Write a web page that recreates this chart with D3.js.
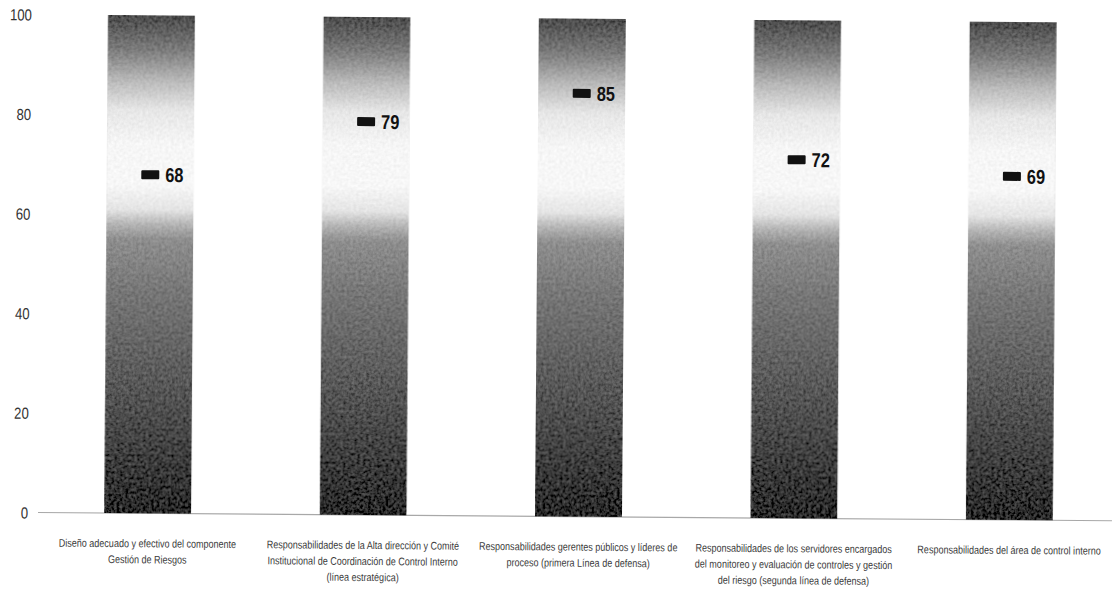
<!DOCTYPE html>
<html>
<head>
<meta charset="utf-8">
<script src="https://cdn.jsdelivr.net/npm/d3@7"></script>
<style>
  body { margin: 0; background: #fff; }
  svg { display: block; }
  .tick text { font-family: "Liberation Sans", Arial, sans-serif; }
</style>
</head>
<body>
<div id="chart"></div>
<script>
// Category labels, one entry per line of text
const categories = [
  ["Diseño adecuado y efectivo del componente", "Gestión de Riesgos"],
  ["Responsabilidades de la Alta dirección y Comité", "Institucional de Coordinación de Control Interno", "(línea estratégica)"],
  ["Responsabilidades gerentes públicos y líderes de", "proceso (primera Línea de defensa)"],
  ["Responsabilidades de los servidores encargados", "del monitoreo y evaluación de controles y gestión", "del riesgo (segunda línea de defensa)"],
  ["Responsabilidades del área de control interno"]
];
// Score reached in each component
const values = [68, 79, 85, 72, 69];
// Full scale of each track bar
const scaleMax = [100, 100, 100, 100, 100];
const yTicks = [0, 20, 40, 60, 80, 100];

const W = 1115, H = 590;
const font = '"Liberation Sans", Arial, sans-serif';
const squeeze = "scale(0.82,1)";   // narrow lettering

const svg = d3.select("#chart").append("svg")
  .attr("width", W).attr("height", H);

const defs = svg.append("defs");

// Shading of the track bars: dark at the base, bright band in the upper middle, darker at the top
const grad = defs.append("linearGradient")
  .attr("id", "trackShade")
  .attr("x1", 0).attr("y1", 0).attr("x2", 0).attr("y2", 1);
[
  [0.00, "#4a4a4a"], [0.07, "#7c7c7c"], [0.13, "#b8b8b8"], [0.19, "#e6e6e6"],
  [0.26, "#f6f6f6"], [0.34, "#f7f7f7"], [0.39, "#e4e4e4"], [0.42, "#b4b4b4"],
  [0.45, "#8e8e8e"], [0.55, "#777"], [0.70, "#5e5e5e"], [0.85, "#444"], [1.00, "#262626"]
].forEach(([o, c]) => grad.append("stop").attr("offset", o).attr("stop-color", c));

// Grain over the bars
const grain = defs.append("filter").attr("id", "grain")
  .attr("x", 0).attr("y", 0).attr("width", 1).attr("height", 1);
grain.append("feTurbulence").attr("type", "fractalNoise")
  .attr("baseFrequency", 0.35).attr("numOctaves", 2).attr("seed", 4).attr("result", "noise");
grain.append("feColorMatrix").attr("in", "noise").attr("type", "matrix")
  .attr("values", "1 0 0 0 0  1 0 0 0 0  1 0 0 0 0  0 0 0 0 1").attr("result", "grayNoise");
grain.append("feComposite").attr("in", "SourceGraphic").attr("in2", "grayNoise")
  .attr("operator", "arithmetic").attr("k1", 0).attr("k2", 1).attr("k3", 0.2).attr("k4", -0.1)
  .attr("result", "mixed");
grain.append("feComposite").attr("in", "mixed").attr("in2", "SourceGraphic").attr("operator", "in");

// The whole plot sits at a slight angle
const g = svg.append("g").attr("transform", "rotate(0.44, 104, 513)");

const x = d3.scaleBand()
  .domain(d3.range(categories.length))
  .range([40, 1117])
  .paddingInner(0.596)
  .paddingOuter(0.298);

const y = d3.scaleLinear().domain([0, 100]).range([513, 15]);

// Value axis: labels only
const yAxis = g.append("g")
  .attr("transform", "translate(28,0)")
  .call(d3.axisLeft(y).tickValues(yTicks).tickSize(0).tickPadding(0));
yAxis.select(".domain").remove();
yAxis.selectAll("text")
  .attr("fill", "#333")
  .style("font-size", "16px")
  .attr("dy", "0.35em")
  .attr("transform", squeeze);

// Baseline
g.append("line")
  .attr("x1", 38).attr("x2", 1112)
  .attr("y1", y(0)).attr("y2", y(0))
  .attr("stroke", "#a8a8a8").attr("stroke-width", 1.2);

// Track bars
g.selectAll("rect.track")
  .data(scaleMax)
  .join("rect")
  .attr("class", "track")
  .attr("x", (d, i) => x(i))
  .attr("y", d => y(d))
  .attr("width", x.bandwidth())
  .attr("height", d => y(0) - y(d))
  .attr("fill", "url(#trackShade)")
  .attr("filter", "url(#grain)");

// Value markers
g.selectAll("rect.marker")
  .data(values)
  .join("rect")
  .attr("class", "marker")
  .attr("x", (d, i) => x(i) + x.bandwidth() / 2 - 9)
  .attr("y", d => y(d) - 4.5)
  .attr("width", 18)
  .attr("height", 9)
  .attr("rx", 1)
  .attr("fill", "#111");

// Value labels
g.selectAll("text.value")
  .data(values)
  .join("text")
  .attr("class", "value")
  .attr("transform", (d, i) => `translate(${x(i) + x.bandwidth() / 2 + 15},${y(d)}) ${squeeze}`)
  .attr("dy", "0.36em")
  .attr("font-family", font)
  .attr("font-weight", "bold")
  .attr("font-size", 20)
  .attr("fill", "#111")
  .text(d => d);

// Category labels under the bars
const catLabels = g.selectAll("text.cat")
  .data(categories)
  .join("text")
  .attr("class", "cat")
  .attr("transform", (d, i) => `translate(${x(i) + x.bandwidth() / 2},0) ${squeeze}`)
  .attr("text-anchor", "middle")
  .attr("font-family", font)
  .attr("font-size", 11)
  .attr("fill", "#3a3a3a");
catLabels.selectAll("tspan")
  .data(d => d)
  .join("tspan")
  .attr("x", 0)
  .attr("y", (d, j) => 547 + j * 16)
  .text(d => d);
</script>
</body>
</html>
